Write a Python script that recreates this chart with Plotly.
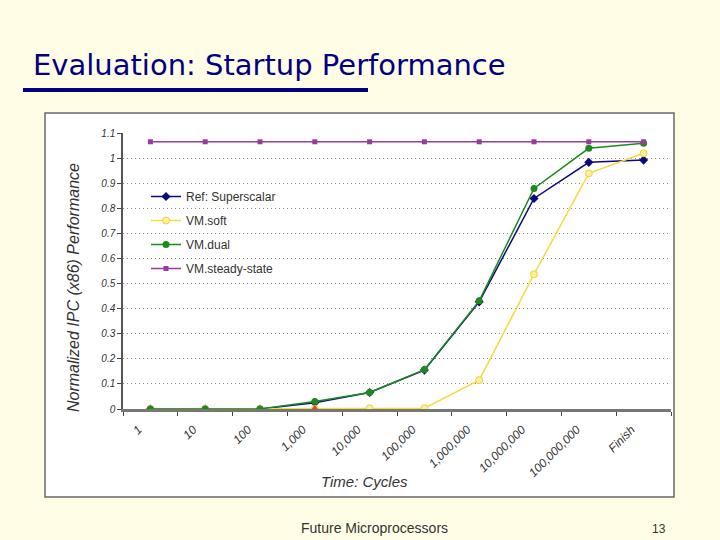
import plotly.graph_objects as go

# ---------------- data ----------------
categories = ["1", "10", "100", "1,000", "10,000", "100,000", "1,000,000",
              "10,000,000", "100,000,000", "Finish"]
ref_superscalar = [0.0, 0.0, 0.0, 0.025, 0.066, 0.155, 0.427, 0.839, 0.983, 0.992]
vm_soft = [0.0, 0.0, 0.0, 0.0, 0.003, 0.003, 0.115, 0.537, 0.939, 1.019]
vm_dual = [0.0, 0.0, 0.0, 0.03, 0.066, 0.157, 0.431, 0.879, 1.039, 1.059]
vm_steady = [1.065] * 10
flag_x = ["1,000"]
flag_y = [0.0]

series_names = ["Ref: Superscalar", "VM.soft", "VM.dual", "VM.steady-state"]
title_text = "Evaluation: Startup Performance"
y_title = "Normalized IPC (x86) Performance"
x_title = "Time: Cycles"
footer_text = "Future Microprocessors"
page_no = "13"

# ---------------- layout geometry ----------------
W, H = 720, 540
L, R, T, B = 123, 671, 133, 409  # plot area in pixels


def px(x):
    return (x - L) / (R - L)


def py(y):
    return (B - y) / (B - T)


BG = "#FFFDE6"
NAVY = "#000080"

fig = go.Figure()

fig.add_trace(go.Scatter(
    x=categories, y=ref_superscalar, name=series_names[0], legendgroup="a",
    mode="lines+markers", line=dict(color="#0A0A80", width=1.5),
    marker=dict(symbol="diamond", size=7, color="#0A0A80")))
fig.add_trace(go.Scatter(
    x=categories, y=vm_soft, name=series_names[1], legendgroup="b",
    mode="lines+markers", line=dict(color="#F7D940", width=1.5),
    marker=dict(symbol="circle", size=7, color="#FBEFA0",
                line=dict(color="#F2D230", width=1))))
fig.add_trace(go.Scatter(
    x=categories, y=vm_dual, name=series_names[2], legendgroup="c",
    mode="lines+markers", line=dict(color="#1E8A1E", width=1.5),
    marker=dict(symbol="circle", size=7, color="#1E8A1E")))
fig.add_trace(go.Scatter(
    x=categories, y=vm_steady, name=series_names[3], legendgroup="d",
    mode="lines+markers", line=dict(color="#9B3A9B", width=1.5),
    marker=dict(symbol="square", size=5, color="#9B3A9B")))
fig.add_trace(go.Scatter(
    x=flag_x, y=flag_y, mode="markers", showlegend=False, hoverinfo="skip",
    marker=dict(symbol="triangle-up", size=8, color="#E8401C")))

tick_font = dict(family="Liberation Sans, Arial", size=10, color="#333333",
                 style="italic")

fig.update_layout(
    width=W, height=H,
    margin=dict(l=L, r=W - R, t=T, b=H - B, pad=0),
    paper_bgcolor=BG, plot_bgcolor="white",
    showlegend=True,
    legend=dict(x=px(146), y=py(182), xanchor="left", yanchor="top",
                bgcolor="rgba(0,0,0,0)", borderwidth=0,
                font=dict(family="Liberation Sans, Arial", size=12,
                          color="#333333"),
                itemwidth=30, tracegroupgap=5, traceorder="grouped"),
    xaxis=dict(type="category", range=[-0.5, 9.5], tickson="boundaries",
               ticks="outside", ticklen=4, tickcolor="#444", tickwidth=1,
               showline=True, linecolor="#777777", linewidth=3,
               showgrid=False, zeroline=False, tickangle=-45,
               ticklabelshift=-12, ticklabelstandoff=6,
               tickfont=dict(family="Liberation Sans, Arial", size=12,
                             color="#333333", style="italic")),
    yaxis=dict(range=[0, 1.1], dtick=0.1, ticks="outside", ticklen=4,
               tickcolor="#444", showline=True, linecolor="#555555",
               linewidth=1.5, showgrid=True, gridcolor="#8a8a8a",
               griddash="1px,3px", gridwidth=1, zeroline=False,
               tickfont=tick_font),
    font=dict(family="Liberation Sans, Arial"),
)

# chart frame (white box with border)
fig.add_shape(type="rect", xref="paper", yref="paper", layer="below",
              x0=px(45), x1=px(674), y0=py(497), y1=py(113),
              fillcolor="white", line=dict(color="#6a6a6a", width=1.5))
# title underline bar
fig.add_shape(type="rect", xref="paper", yref="paper",
              x0=px(23), x1=px(368), y0=py(92), y1=py(88),
              fillcolor=NAVY, line=dict(width=0))

fig.add_annotation(text=title_text, xref="paper", yref="paper",
                   x=px(31), y=py(65), xanchor="left", yanchor="middle",
                   showarrow=False,
                   font=dict(family="DejaVu Sans", size=29, color=NAVY))
fig.add_annotation(text=y_title, xref="paper", yref="paper",
                   x=px(73), y=py(288), xanchor="center", yanchor="middle",
                   textangle=-90, showarrow=False,
                   font=dict(family="Liberation Sans, Arial", size=16,
                             color="#333333", style="italic"))
fig.add_annotation(text=x_title, xref="paper", yref="paper",
                   x=px(364), y=py(481), xanchor="center", yanchor="middle",
                   showarrow=False,
                   font=dict(family="Liberation Sans, Arial", size=15,
                             color="#333333", style="italic"))
fig.add_annotation(text=footer_text, xref="paper", yref="paper",
                   x=px(374), y=py(528), xanchor="center", yanchor="middle",
                   showarrow=False,
                   font=dict(family="Liberation Sans, Arial", size=14,
                             color="#333333"))
fig.add_annotation(text=page_no, xref="paper", yref="paper",
                   x=px(659), y=py(529), xanchor="center", yanchor="middle",
                   showarrow=False,
                   font=dict(family="Liberation Sans, Arial", size=12,
                             color="#333333"))

fig.write_html("out.html")
